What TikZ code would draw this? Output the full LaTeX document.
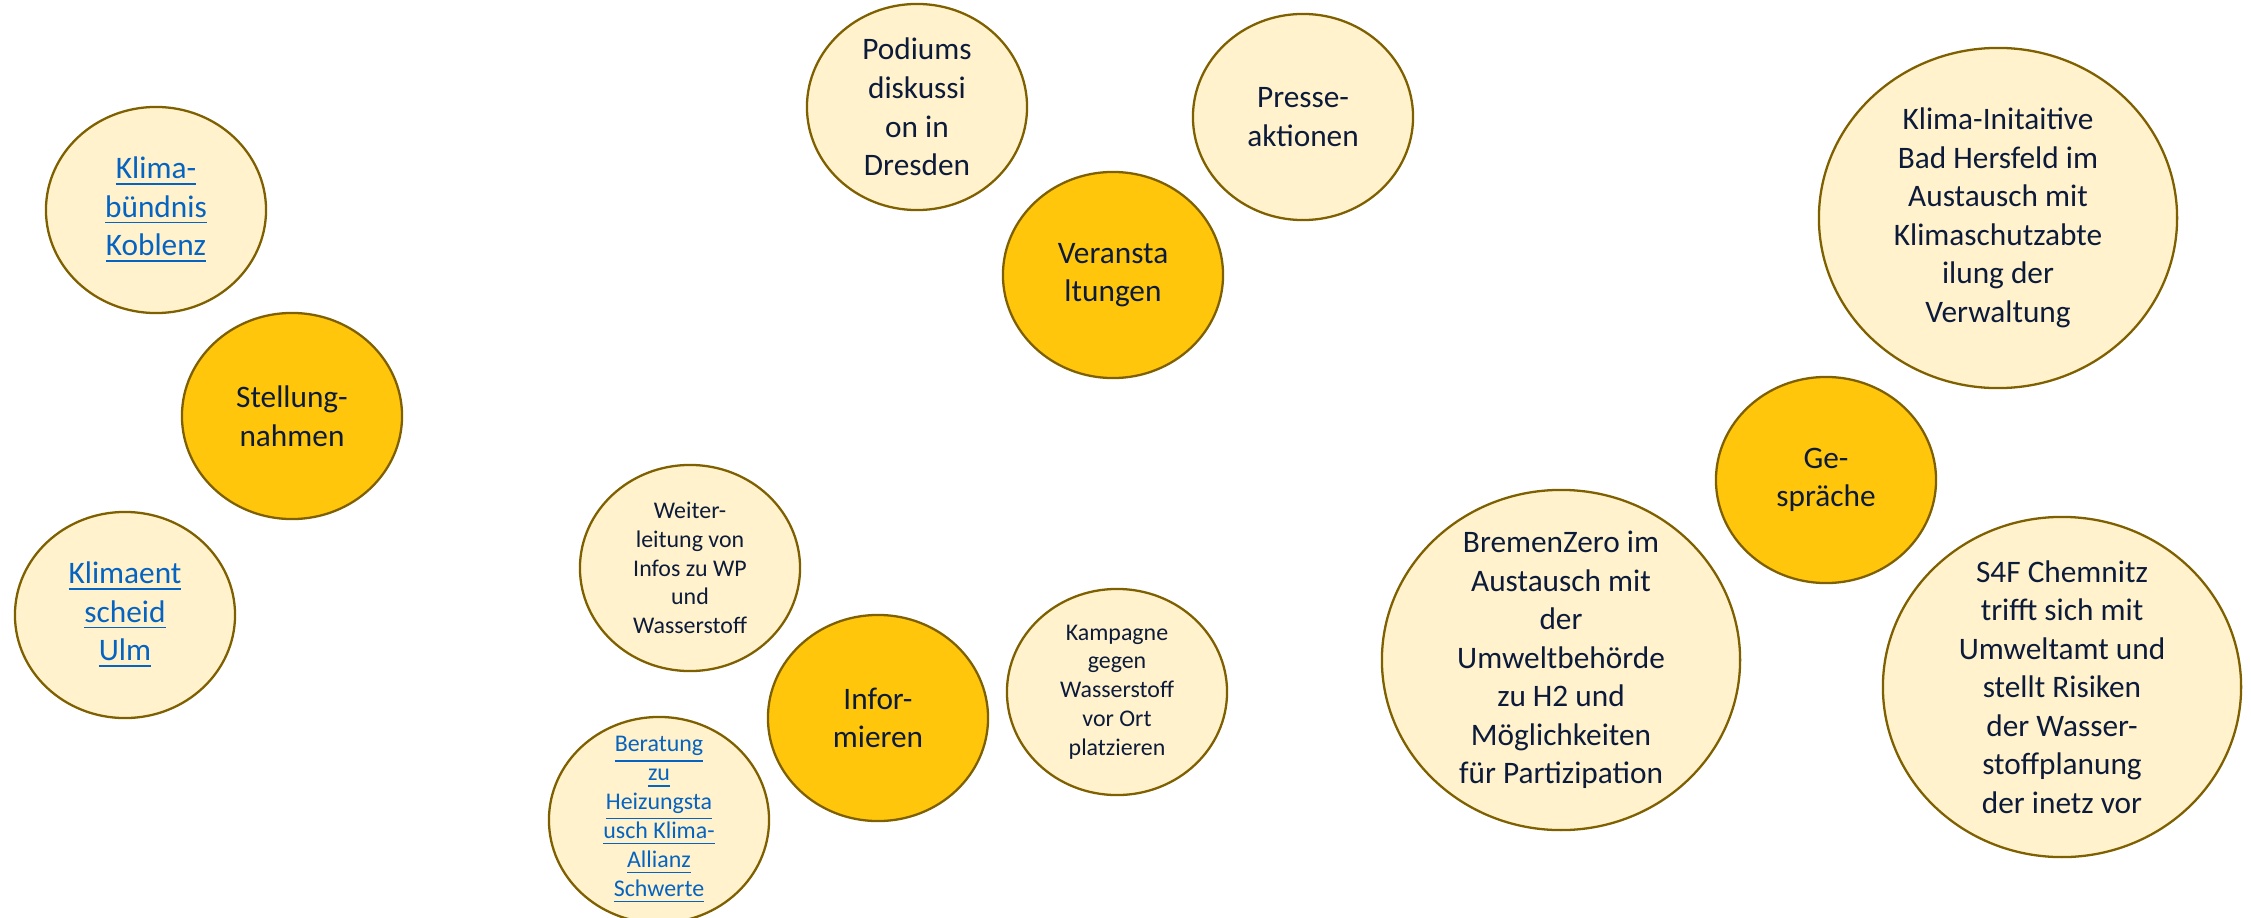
\documentclass[tikz,border=0pt]{standalone}
\usepackage{fontspec}
\setmainfont{Carlito}
\usetikzlibrary{shapes.geometric}
\definecolor{palefill}{HTML}{FFF2CC}
\definecolor{goldfill}{HTML}{FFC60B}
\definecolor{rimbrown}{HTML}{7F6000}
\definecolor{inknavy}{HTML}{0D1B3A}
\definecolor{linkblue}{HTML}{0563C1}
\newcommand{\lnk}[1]{\textcolor{linkblue}{\underline{#1}}}

\begin{document}
\begin{tikzpicture}[x=0.01cm, y=-0.01cm,
    bubble/.style={ellipse, draw=rimbrown, line width=0.65pt, inner sep=0pt,
      minimum width=2.2cm, minimum height=2.06cm},
    pale/.style={bubble, fill=palefill},
    gold/.style={bubble, fill=goldfill},
    bigpale/.style={pale, minimum width=3.58cm, minimum height=3.4cm},
    txt/.style={align=center, inner sep=0pt, text=inknavy,
      font=\fontsize{8.9}{10.95}\selectfont},
    smalltxt/.style={txt, font=\fontsize{6.8}{8.2}\selectfont}]
  \useasboundingbox (0,0) rectangle (2251,918);
  \node[pale, label={[txt]center:{\lnk{Klima-}\\\lnk{bündnis}\\\lnk{Koblenz}}}] (koblenz) at (156,210) {};
  \node[gold, label={[txt]center:{Stellung-\\nahmen}}] (stellung) at (292,416) {};
  \node[pale, label={[txt]center:{\lnk{Klimaent}\\\lnk{scheid}\\\lnk{Ulm}}}] (ulm) at (125,615) {};
  \node[pale, label={[txt]center:{Podiums\\diskussi\\on in\\Dresden}}] (podium) at (917,107) {};
  \node[pale, label={[txt]center:{Presse-\\aktionen}}] (presse) at (1303,117) {};
  \node[gold, label={[txt]center:{Veransta\\ltungen}}] (veranst) at (1113,275) {};
  \node[pale, label={[smalltxt]center:{Weiter-\\leitung von\\Infos zu WP\\und\\Wasserstoff}}] (weiter) at (690,568) {};
  \node[gold, label={[txt]center:{Infor-\\mieren}}] (informieren) at (878,718) {};
  \node[pale, label={[smalltxt]center:{Kampagne\\gegen\\Wasserstoff\\vor Ort\\platzieren}}] (kampagne) at (1117,692) {};
  \node[pale, label={[smalltxt]center:{\lnk{Beratung}\\\lnk{zu}\\\lnk{Heizungsta}\\\lnk{usch Klima-}\\\lnk{Allianz}\\\lnk{Schwerte}}}] (beratung) at (659,820) {};
  \node[gold, label={[txt]center:{Ge-\\spräche}}] (gespraeche) at (1826,480) {};
  \node[bigpale, label={[txt]center:{Klima-Initaitive\\Bad Hersfeld im\\Austausch mit\\Klimaschutzabte\\ilung der\\Verwaltung}}] (badhersfeld) at (1998,218) {};
  \node[bigpale, label={[txt]center:{BremenZero im\\Austausch mit\\der\\Umweltbehörde\\zu H2 und\\Möglichkeiten\\für Partizipation}}] (bremen) at (1561,660) {};
  \node[bigpale, label={[txt]center:{S4F Chemnitz\\trifft sich mit\\Umweltamt und\\stellt Risiken\\der Wasser-\\stoffplanung\\der inetz vor}}] (chemnitz) at (2062,687) {};
\end{tikzpicture}
\end{document}
